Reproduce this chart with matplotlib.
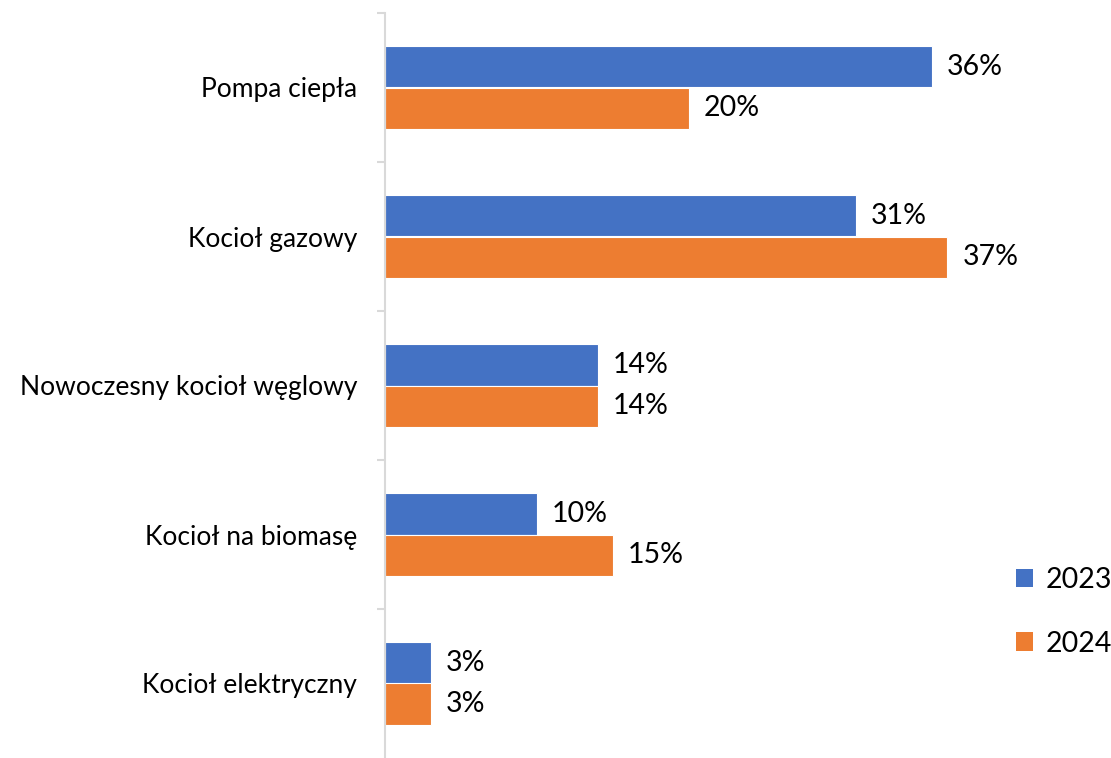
import numpy as np
import matplotlib.pyplot as plt
from matplotlib.patches import Patch

plt.rcParams['font.family'] = ['Lato', 'DejaVu Sans']

categories = ['Pompa ciepła', 'Kocioł gazowy', 'Nowoczesny kocioł węglowy',
              'Kocioł na biomasę', 'Kocioł elektryczny']
values_2023 = [36, 31, 14, 10, 3]
values_2024 = [20, 37, 14, 15, 3]
series_names = ['2023', '2024']
colors = ['#4472C4', '#ED7D31']

fig = plt.figure(figsize=(11.11, 7.58), dpi=100)
ax = fig.add_axes([385 / 1111, 0.0, 0.547, 1 - 13 / 758])

y = np.arange(len(categories))
h = 0.28
ax.barh(y - h / 2, values_2023, height=h, color=colors[0], edgecolor='white', linewidth=0.8)
ax.barh(y + h / 2, values_2024, height=h, color=colors[1], edgecolor='white', linewidth=0.8)

for vals, off in [(values_2023, -h / 2), (values_2024, h / 2)]:
    for yi, v in zip(y, vals):
        ax.text(v + 1.0, yi + off, f'{v}%', va='center', ha='left', fontsize=20.5)

ax.set_ylim(len(categories) - 0.5, -0.5)
ax.set_xlim(0, 40)
ax.set_yticks(y)
ax.set_yticklabels(categories, fontsize=19)
ax.set_yticks(np.arange(-0.5, len(categories) - 0.5), minor=True)
ax.tick_params(axis='y', which='major', length=0, pad=20)
ax.tick_params(axis='y', which='minor', length=6, width=1.5, color='#d9d9d9', direction='out')
ax.set_xticks([])
for s in ['top', 'right', 'bottom']:
    ax.spines[s].set_visible(False)
ax.spines['left'].set_color('#d9d9d9')
ax.spines['left'].set_linewidth(1.5)

handles = [Patch(facecolor=c) for c in colors]
fig.legend(handles, series_names, loc='center left', bbox_to_anchor=(1016 / 1111, 1 - 612 / 758),
           frameon=False, fontsize=20.5, handlelength=0.6, handleheight=0.6,
           handletextpad=0.45, labelspacing=1.3, borderpad=0, borderaxespad=0)

fig.savefig('out.png', dpi=100)
